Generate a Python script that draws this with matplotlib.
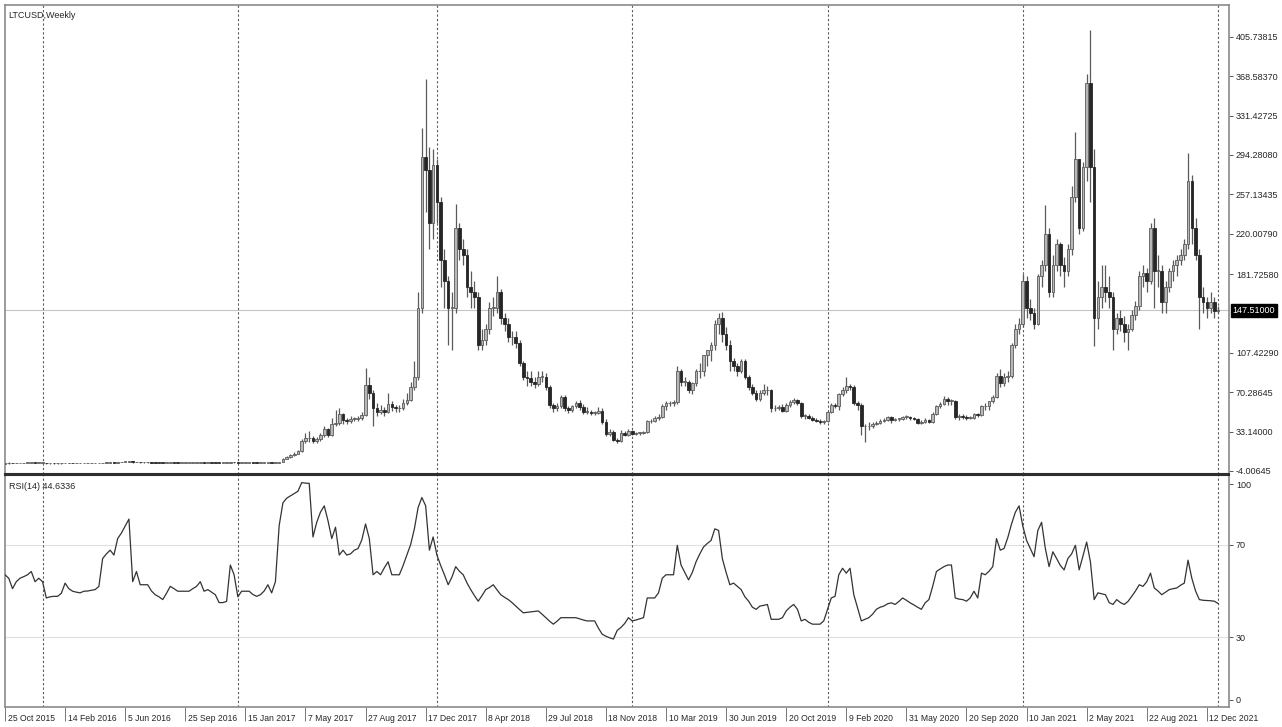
import numpy as np
import pandas as pd
import matplotlib
matplotlib.use("Agg")
import matplotlib.pyplot as plt
import matplotlib.transforms as mtrans

plt.rcParams['font.family'] = ['Liberation Sans', 'DejaVu Sans']

# --- DATA (weekly LTCUSD bars, first bar = week of 25 Oct 2015) ---
FIRST_WEEK = "2015-10-25"

OPEN = [
    3.0, 3.1, 3.5, 3.3, 3.3, 3.4, 3.5, 3.6, 3.7, 3.5,
    3.6, 3.6, 3.1, 3.2, 3.1, 3.1, 3.2, 3.5, 3.3, 3.2,
    3.2, 3.2, 3.2, 3.2, 3.3, 3.3, 3.4, 3.8, 3.9, 4.0,
    3.9, 4.3, 4.5, 4.7, 5.0, 4.2, 4.4, 4.1, 4.1, 4.1,
    4.0, 3.9, 3.8, 3.7, 3.8, 3.9, 3.85, 3.8, 3.8, 3.8,
    3.8, 3.85, 3.9, 4.0, 3.8, 3.8, 3.75, 3.7, 3.5, 3.5,
    3.5, 4.4, 4.3, 3.8, 3.9, 3.9, 3.9, 3.85, 3.8, 3.8,
    3.85, 3.95, 3.85, 4.0, 4.3, 7.5, 9.0, 11.0, 12.5, 14.5,
    24.0, 27.0, 27.5, 24.0, 26.0, 30.0, 36.0, 30.0, 40.0, 41.0,
    50.0, 44.0, 43.0, 45.0, 45.0, 46.0, 49.0, 77.0, 70.0, 55.0,
    52.0, 54.0, 52.0, 59.0, 56.0, 55.0, 55.0, 60.0, 63.0, 75.0,
    85, 150, 292, 280, 230, 285, 250, 195, 175, 150,
    150, 225, 205, 200, 170, 165, 160, 115, 120, 130,
    150, 150, 165, 140, 135, 122, 122, 117, 98, 85,
    84, 80, 78, 85, 85, 75, 58, 55, 57, 66,
    55, 54, 57, 60, 56, 52, 52, 51, 51, 53,
    42, 31, 33, 25, 24, 32, 30, 34, 31, 32,
    32, 33, 43, 43, 46, 47, 57, 60, 60, 61,
    90, 80, 80, 72, 79, 90, 90, 105, 110, 115,
    135, 140, 125, 115, 100, 95, 90, 100, 85, 75,
    70, 64, 70, 72, 72, 55, 55, 56, 53, 58,
    61, 63, 60, 48, 48, 46, 44, 43, 42, 43,
    52, 58, 57, 69, 72, 76, 75, 60, 58, 38,
    38, 38, 40, 41, 43, 44, 47, 44, 45, 45,
    47, 47, 46, 45, 41, 42, 44, 42, 50, 57,
    59, 64, 62, 62, 47, 48, 47, 46, 46, 50,
    49, 57, 57, 62, 66, 86, 79, 85, 86, 115,
    130, 135, 175, 150, 145, 135, 180, 190, 220, 165,
    190, 210, 190, 185, 205, 255, 290, 225, 283, 362,
    283, 140, 160, 170, 165, 160, 130, 140, 135, 127,
    130, 143, 152, 180, 183, 175, 225, 185, 185, 155,
    170, 185, 190, 195, 200, 210, 270, 225, 200, 160,
    155, 150, 155, 147,
]

HIGH = [
    3.3, 4.8, 3.9, 3.5, 3.5, 3.7, 3.8, 3.9, 3.8, 3.7,
    3.8, 3.7, 3.3, 3.3, 3.2, 3.3, 3.6, 3.6, 3.4, 3.3,
    3.3, 3.3, 3.3, 3.4, 3.4, 3.5, 3.9, 4.1, 4.2, 4.1,
    4.4, 4.7, 4.9, 5.8, 5.1, 4.6, 4.5, 4.3, 4.2, 4.2,
    4.1, 4.0, 3.9, 3.9, 4.0, 4.0, 3.95, 3.9, 3.9, 3.9,
    3.9, 4.0, 4.1, 4.1, 3.9, 3.9, 3.8, 3.75, 3.6, 3.6,
    4.6, 4.6, 4.4, 4.0, 4.0, 4.0, 4.0, 3.95, 3.9, 3.9,
    4.0, 4.0, 4.1, 4.5, 8.5, 10.0, 12.0, 13.5, 16.0, 26.0,
    32.0, 34.0, 29.0, 28.0, 32.0, 38.0, 37.0, 46.0, 54.0, 55.0,
    51.0, 46.0, 48.0, 47.0, 48.0, 52.0, 93.0, 85.0, 72.0, 60.0,
    58.0, 56.0, 70.0, 62.0, 58.0, 58.0, 64.0, 70.0, 80.0, 100.0,
    165, 320, 366, 302, 300, 290, 255, 205, 180, 165,
    248, 230, 215, 205, 185, 175, 165, 130, 135, 155,
    160, 180, 168, 145, 140, 128, 128, 120, 100, 90,
    90, 85, 90, 90, 88, 77, 60, 60, 68, 68,
    57, 58, 62, 63, 59, 56, 54, 53, 56, 55,
    45, 36, 35, 27, 35, 34, 36, 35, 33, 33,
    34, 44, 45, 48, 50, 59, 62, 62, 63, 95,
    92, 85, 82, 80, 92, 98, 100, 110, 118, 138,
    145, 146, 132, 120, 103, 98, 102, 102, 87, 78,
    72, 72, 78, 76, 73, 58, 58, 59, 60, 63,
    65, 64, 61, 50, 50, 48, 46, 45, 44, 53,
    60, 60, 70, 75, 85, 78, 77, 62, 60, 40,
    42, 42, 43, 45, 46, 48, 48, 46, 46, 48,
    49, 48, 47, 46, 44, 46, 45, 52, 58, 61,
    67, 66, 64, 63, 50, 50, 49, 48, 51, 51,
    58, 60, 62, 68, 88, 92, 88, 90, 117, 135,
    140, 182, 180, 158, 150, 182, 195, 247, 225, 200,
    215, 212, 198, 210, 265, 316, 290, 288, 371, 412,
    300, 175, 190, 190, 180, 165, 145, 148, 142, 135,
    148, 156, 185, 190, 188, 230, 235, 200, 190, 175,
    188, 195, 200, 205, 215, 296, 275, 235, 205, 170,
    160, 165, 160, 152,
]

LOW = [
    2.9, 3.0, 3.1, 3.1, 3.2, 3.3, 3.4, 3.5, 3.4, 3.4,
    3.4, 3.0, 3.0, 3.0, 3.0, 3.0, 3.1, 3.2, 3.1, 3.1,
    3.1, 3.1, 3.1, 3.1, 3.2, 3.2, 3.3, 3.7, 3.8, 3.8,
    3.8, 4.2, 4.3, 4.5, 4.0, 4.1, 4.0, 4.0, 3.9, 3.9,
    3.8, 3.7, 3.6, 3.6, 3.7, 3.7, 3.7, 3.7, 3.7, 3.7,
    3.7, 3.8, 3.8, 3.7, 3.7, 3.7, 3.6, 3.4, 3.4, 3.4,
    3.4, 4.0, 3.7, 3.7, 3.8, 3.8, 3.75, 3.7, 3.7, 3.7,
    3.8, 3.8, 3.8, 3.9, 4.1, 7.0, 8.5, 10.0, 12.0, 14.0,
    22.0, 23.0, 22.0, 22.5, 24.0, 28.0, 28.0, 29.0, 38.0, 39.0,
    40.0, 40.0, 41.0, 43.0, 43.0, 44.0, 48.0, 64.0, 38.0, 48.0,
    50.0, 48.0, 51.0, 53.0, 52.0, 52.0, 54.0, 58.0, 62.0, 72.0,
    82, 145, 240, 205, 215, 230, 170, 150, 115, 110,
    145, 195, 190, 160, 150, 150, 110, 110, 115, 125,
    142, 145, 135, 128, 118, 115, 112, 95, 82, 76,
    76, 74, 76, 80, 72, 55, 52, 53, 55, 53,
    51, 52, 55, 54, 50, 50, 49, 49, 50, 40,
    29, 29, 24, 22, 23, 29, 29, 30, 30, 30,
    31, 32, 41, 42, 44, 46, 54, 57, 57, 59,
    76, 76, 70, 69, 76, 84, 86, 95, 100, 110,
    125, 118, 110, 90, 90, 86, 88, 83, 72, 68,
    62, 62, 68, 68, 52, 53, 54, 52, 52, 56,
    59, 58, 46, 45, 45, 43, 42, 40, 40, 42,
    51, 55, 54, 67, 70, 72, 58, 54, 30, 23,
    35, 37, 39, 40, 42, 43, 41, 43, 43, 44,
    45, 44, 44, 40, 40, 41, 41, 41, 49, 55,
    58, 58, 58, 45, 44, 45, 44, 45, 45, 47,
    48, 54, 54, 60, 65, 75, 76, 80, 84, 112,
    125, 132, 140, 138, 130, 134, 170, 185, 160, 160,
    185, 180, 170, 180, 200, 250, 220, 222, 270, 250,
    114, 130, 150, 155, 150, 110, 125, 128, 118, 110,
    128, 138, 148, 170, 165, 172, 150, 170, 145, 145,
    165, 175, 180, 190, 195, 205, 210, 195, 130, 145,
    140, 145, 140, 145,
]

CLOSE = [
    3.1, 3.5, 3.3, 3.3, 3.4, 3.5, 3.6, 3.7, 3.5, 3.6,
    3.6, 3.1, 3.2, 3.1, 3.1, 3.2, 3.5, 3.3, 3.2, 3.2,
    3.2, 3.2, 3.2, 3.3, 3.3, 3.4, 3.8, 3.9, 4.0, 3.9,
    4.3, 4.5, 4.7, 5.0, 4.2, 4.4, 4.1, 4.1, 4.1, 4.0,
    3.9, 3.8, 3.7, 3.8, 3.9, 3.85, 3.8, 3.8, 3.8, 3.8,
    3.85, 3.9, 4.0, 3.8, 3.8, 3.75, 3.7, 3.5, 3.5, 3.5,
    4.4, 4.3, 3.8, 3.9, 3.9, 3.9, 3.85, 3.8, 3.8, 3.85,
    3.95, 3.85, 4.0, 4.3, 7.5, 9.0, 11.0, 12.5, 14.5, 24.0,
    27.0, 27.5, 24.0, 26.0, 30.0, 36.0, 30.0, 40.0, 41.0, 50.0,
    44.0, 43.0, 45.0, 45.0, 46.0, 49.0, 77.0, 70.0, 55.0, 52.0,
    54.0, 52.0, 59.0, 56.0, 55.0, 55.0, 60.0, 63.0, 75.0, 85.0,
    150, 292, 280, 230, 285, 250, 195, 175, 150, 150,
    225, 205, 200, 170, 165, 160, 115, 120, 130, 150,
    150, 165, 140, 135, 122, 122, 117, 98, 85, 84,
    80, 78, 85, 85, 75, 58, 55, 57, 66, 55,
    54, 57, 60, 56, 52, 52, 51, 51, 53, 42,
    31, 33, 25, 24, 32, 30, 34, 31, 32, 32,
    33, 43, 43, 46, 47, 57, 60, 60, 61, 90,
    80, 80, 72, 79, 90, 90, 105, 110, 115, 135,
    140, 125, 115, 100, 95, 90, 100, 85, 75, 70,
    64, 70, 72, 72, 55, 55, 56, 53, 58, 61,
    63, 60, 48, 48, 46, 44, 43, 42, 43, 52,
    58, 57, 69, 72, 76, 75, 60, 58, 38, 38,
    38, 40, 41, 43, 44, 47, 44, 45, 45, 47,
    47, 46, 45, 41, 42, 44, 42, 50, 57, 59,
    64, 62, 62, 47, 48, 47, 46, 46, 50, 49,
    57, 57, 62, 66, 86, 79, 85, 86, 115, 130,
    135, 175, 150, 145, 135, 180, 190, 220, 165, 190,
    210, 190, 185, 205, 255, 290, 225, 283, 362, 283,
    140, 160, 170, 165, 160, 130, 140, 135, 127, 130,
    143, 152, 180, 183, 175, 225, 185, 185, 155, 170,
    185, 190, 195, 200, 210, 270, 225, 200, 160, 155,
    150, 155, 147, 147.51,
]

RSI = [
    57, 55.5, 51, 54, 55.5, 56.2, 57, 58.4, 54, 55.5,
    54, 47, 47.5, 47.7, 47.7, 49, 53.4, 51, 49.9, 49.5,
    49.2, 49.9, 50, 50.3, 50.6, 52, 64, 66, 67.6, 65.5,
    72.6, 75, 78, 81, 54, 58.4, 52.7, 52.7, 52.7, 50,
    48.4, 47.5, 46.3, 49, 52, 51, 49.9, 49.9, 49.9, 49.9,
    51, 52, 54, 49.9, 50.6, 49.5, 48.4, 45, 45, 45.5,
    61.2, 57, 47.5, 49.9, 49.9, 49.9, 48.5, 47.7, 48.4, 50,
    52.7, 49.2, 54, 78.2, 88, 90, 91, 92, 93, 96.7,
    96.5, 96.4, 73.3, 79.6, 84, 86.7, 80.3, 72.6, 77.5, 65.5,
    67.6, 65.5, 66, 67.6, 68.3, 72, 78.9, 72.6, 57, 58.4,
    57, 60, 62.6, 57, 57, 57, 61, 65.5, 70, 76.8,
    86, 90.3, 86.7, 67.6, 73.3, 65.5, 61, 57, 52.7, 56,
    60.5, 58.5, 57, 53.5, 50.6, 48, 45.6, 48, 50.6, 51.5,
    52.7, 50.5, 48.4, 47.3, 46.3, 45, 43.5, 42, 40.6, 40.8,
    41, 41.2, 41.4, 40, 38.5, 37, 35.7, 37, 38.5, 38.5,
    38.5, 38.5, 38.5, 38, 37.5, 37.1, 37.1, 37.1, 34, 31.4,
    30.5, 29.8, 29.3, 33, 34.3, 36, 38.5, 37.1, 37.5, 38,
    38.5, 47, 47, 47, 49.2, 55.5, 57, 57, 57, 69.7,
    61.2, 58, 54.8, 58, 62.6, 66, 69, 70.5, 71.8, 76.8,
    76.1, 64, 58, 52.7, 53.4, 52, 50.6, 47.5, 45.6, 43,
    42.1, 43.5, 43.8, 44.2, 37.8, 37.8, 37.8, 38.5, 41.4, 43,
    44.2, 42.1, 37.1, 37.8, 36.5, 35.7, 35.7, 35.7, 37.1, 42,
    47, 47.7, 57, 59.8, 57.7, 59.8, 48.4, 42.8, 37.1, 37.8,
    38.5, 40, 42.1, 43, 43.5, 44.5, 44.9, 44.2, 45.5, 47,
    46, 44.9, 44, 43, 42.1, 44.9, 46.3, 52, 58.4, 59.5,
    60.5, 61.2, 61.2, 47, 46.5, 46.3, 45.6, 47, 49.9, 47,
    57.7, 57, 58.5, 60.5, 72.6, 67.6, 68.3, 73, 78.9, 83.9,
    86.7, 78, 71.8, 68.3, 64.8, 76.1, 79.6, 68.3, 60.5, 66.9,
    64, 61, 59.1, 64, 66, 69.7, 59.1, 65, 71.1, 62.6,
    46.3, 49.2, 48.8, 48.4, 45, 44.2, 46.3, 45, 44.2, 45.5,
    47.7, 50, 52.7, 52, 54, 57.7, 51.3, 50, 48.4, 49.5,
    50.6, 51, 51.3, 52.5, 53.4, 63.3, 55.5, 50, 46.3, 46,
    45.9, 45.8, 45.6, 44.63,
]

PRICE_TICKS = ['405.73815', '368.58370', '331.42725', '294.28080', '257.13435',
               '220.00790', '181.72580', '107.42290', '70.28645', '33.14000', '-4.00645']
LAST_PRICE = '147.51000'
RSI_LEVELS = [70, 30]
RSI_TICKS = ['100', '70', '30', '0']
XTICK_LABELS = ['25 Oct 2015', '14 Feb 2016', '5 Jun 2016', '25 Sep 2016', '15 Jan 2017',
                '7 May 2017', '27 Aug 2017', '17 Dec 2017', '8 Apr 2018', '29 Jul 2018',
                '18 Nov 2018', '10 Mar 2019', '30 Jun 2019', '20 Oct 2019', '9 Feb 2020',
                '31 May 2020', '20 Sep 2020', '10 Jan 2021', '2 May 2021', '22 Aug 2021',
                '12 Dec 2021']
TITLE = 'LTCUSD,Weekly'
RSI_TITLE = 'RSI(14) 44.6336'

# --- FIGURE ---
W, H = 1282, 727
fig = plt.figure(figsize=(W / 100, H / 100), dpi=100)


def box(l, t, r, b):
    return [l / W, 1 - b / H, (r - l) / W, (b - t) / H]


ax1 = fig.add_axes(box(5, 5, 1229, 474))
ax2 = fig.add_axes(box(5, 475, 1229, 707), sharex=ax1)

o = np.array(OPEN, float)
h = np.array(HIGH, float)
l = np.array(LOW, float)
c = np.array(CLOSE, float)
x = np.arange(len(c))
dates = pd.date_range(FIRST_WEEK, periods=len(c), freq='7D')

TXT = '#262626'
FS = 6.5

# candles
up = c >= o
hi = np.maximum(h, np.maximum(o, c))
lo = np.minimum(l, np.minimum(o, c))
ax1.vlines(x, lo, hi, color='#5a5a5a', lw=0.9, zorder=3)
body_b = np.minimum(o, c)
body_h = np.maximum(np.abs(c - o), 0.6)
ax1.bar(x[up], body_h[up], bottom=body_b[up], width=0.7, color='#b8b8b8',
        edgecolor='#5a5a5a', linewidth=0.6, zorder=4)
ax1.bar(x[~up], body_h[~up], bottom=body_b[~up], width=0.7, color='#262626',
        edgecolor='#262626', linewidth=0.6, zorder=4)

last = float(LAST_PRICE)
ax1.axhline(last, color='#c4c4c4', lw=0.8, zorder=1)

ax1.set_ylim(-6.84, 435.7)
ax1.set_xlim(0.15, 325.9)

# rsi
ax2.plot(x, RSI, color='#333333', lw=0.9, zorder=3)
for lev in RSI_LEVELS:
    ax2.axhline(lev, color='#e0e0e0', lw=0.8, zorder=1)
ax2.set_ylim(0, 100)

# year separators
years = dates.year
sep = [i for i in range(1, len(dates)) if years[i] != years[i - 1]]
for ax in (ax1, ax2):
    for s in sep:
        ax.axvline(s, color='#5a5a5a', lw=0.8, ls=(0, (2, 2)), zorder=2)

# axes styling
for ax in (ax1, ax2):
    ax.set_facecolor('white')
    for side in ('left', 'top', 'right', 'bottom'):
        ax.spines[side].set_color('#8a8a8a')
        ax.spines[side].set_linewidth(1.2)
    ax.yaxis.tick_right()
    ax.tick_params(axis='y', direction='out', length=3, width=0.7, colors='#555555',
                   labelcolor=TXT, labelsize=FS, pad=2)
ax1.spines['bottom'].set_color('#2e2e2e')
ax1.spines['bottom'].set_linewidth(1.5)
ax2.spines['top'].set_color('#2e2e2e')
ax2.spines['top'].set_linewidth(1.5)

ax1.set_yticks([float(t) for t in PRICE_TICKS])
ax1.set_yticklabels(PRICE_TICKS)
ax1.tick_params(axis='x', bottom=False, labelbottom=False)

rsi_pos = [96.0, 70, 30, 3.2]
ax2.set_yticks(rsi_pos)
ax2.set_yticklabels(RSI_TICKS)

# price tag
tr = mtrans.blended_transform_factory(ax1.transAxes, ax1.transData)
ax1.text(1.003, last, LAST_PRICE, transform=tr, ha='left', va='center',
         fontsize=FS, color='white', zorder=10, clip_on=False,
         bbox=dict(facecolor='black', edgecolor='black', pad=1.2))

# x labels
tick_idx = [int(dates.get_loc(pd.Timestamp(pd.to_datetime(s, format='%d %b %Y'))))
            for s in XTICK_LABELS]
ax2.set_xticks(tick_idx)
ax2.set_xticklabels(XTICK_LABELS, ha='left')
ax2.tick_params(axis='x', direction='out', length=10, width=0.7, colors='#777777',
                labelcolor=TXT, labelsize=6.2, pad=-5)
for lab in ax2.get_xticklabels():
    lab.set_transform(lab.get_transform() + mtrans.ScaledTranslation(2.5 / 100, 0, fig.dpi_scale_trans))

# titles
ax1.text(0.003, 0.988, TITLE, transform=ax1.transAxes, ha='left', va='top',
         fontsize=FS, color=TXT)
ax2.text(0.003, 0.97, RSI_TITLE, transform=ax2.transAxes, ha='left', va='top',
         fontsize=FS, color=TXT)

fig.savefig('out.png', dpi=100, facecolor='white')
